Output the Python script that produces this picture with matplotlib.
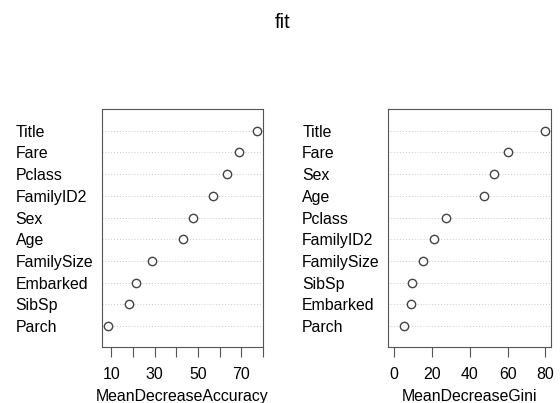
import matplotlib
matplotlib.use("Agg")
import matplotlib.pyplot as plt

plt.rcParams["font.family"] = ["Liberation Sans", "DejaVu Sans"]

# variable importance, bottom to top as drawn
acc_vars = ["Parch", "SibSp", "Embarked", "FamilySize", "Age", "Sex",
            "FamilyID2", "Pclass", "Fare", "Title"]
acc_vals = [8.4, 18.3, 21.5, 28.7, 43.2, 47.8, 57.0, 63.4, 68.8, 77.4]

gini_vars = ["Parch", "Embarked", "SibSp", "FamilySize", "FamilyID2", "Pclass",
             "Age", "Sex", "Fare", "Title"]
gini_vals = [5.3, 9.1, 9.2, 15.3, 21.0, 27.6, 47.6, 52.6, 60.3, 79.6]

acc_ticks = [10, 20, 30, 40, 50, 60, 70, 80]
acc_ticklabels = ["10", "", "30", "", "50", "", "70", ""]
gini_ticks = [0, 20, 40, 60, 80]
gini_ticklabels = ["0", "20", "40", "60", "80"]

fig = plt.figure(figsize=(5.6, 4.03), dpi=100)
fig.text(0.505, 0.945, "fit", ha="center", va="center", fontsize=14.5)

box_col = "#555555"


def dot_panel(rect, names, vals, xlim, ticks, ticklabels, xlabel):
    ax = fig.add_axes(rect)
    ypos = list(range(1, len(vals) + 1))
    for y in ypos:
        ax.axhline(y, color="#c8c8c8", linestyle=(0, (1, 2)), linewidth=0.7,
                   zorder=1)
    ax.plot(vals, ypos, linestyle="none", marker="o", markersize=6,
            markerfacecolor="white", markeredgecolor="#444444",
            markeredgewidth=1.0, zorder=3)
    ax.set_xlim(*xlim)
    ax.set_ylim(0.03, 10.98)
    ax.set_yticks(ypos)
    ax.set_yticklabels(names, fontsize=11.4)
    for lab in ax.get_yticklabels():
        lab.set_ha("left")
    ax.tick_params(axis="y", length=0, pad=62)
    ax.set_xticks(ticks)
    ax.set_xticklabels(ticklabels, fontsize=11.4)
    ax.tick_params(axis="x", length=7.5, width=0.8, color=box_col, pad=7)
    ax.set_xlabel(xlabel, fontsize=11.4, labelpad=5)
    for sp in ax.spines.values():
        sp.set_color(box_col)
        sp.set_linewidth(0.8)
    return ax


dot_panel([0.1816, 0.1382, 0.2886, 0.5906], acc_vars, acc_vals,
          (5.64, 80.16), acc_ticks, acc_ticklabels, "MeanDecreaseAccuracy")
dot_panel([0.6934, 0.1382, 0.29, 0.5906], gini_vars, gini_vals,
          (-3.18, 82.8), gini_ticks, gini_ticklabels, "MeanDecreaseGini")

fig.savefig("out.png", dpi=100)
